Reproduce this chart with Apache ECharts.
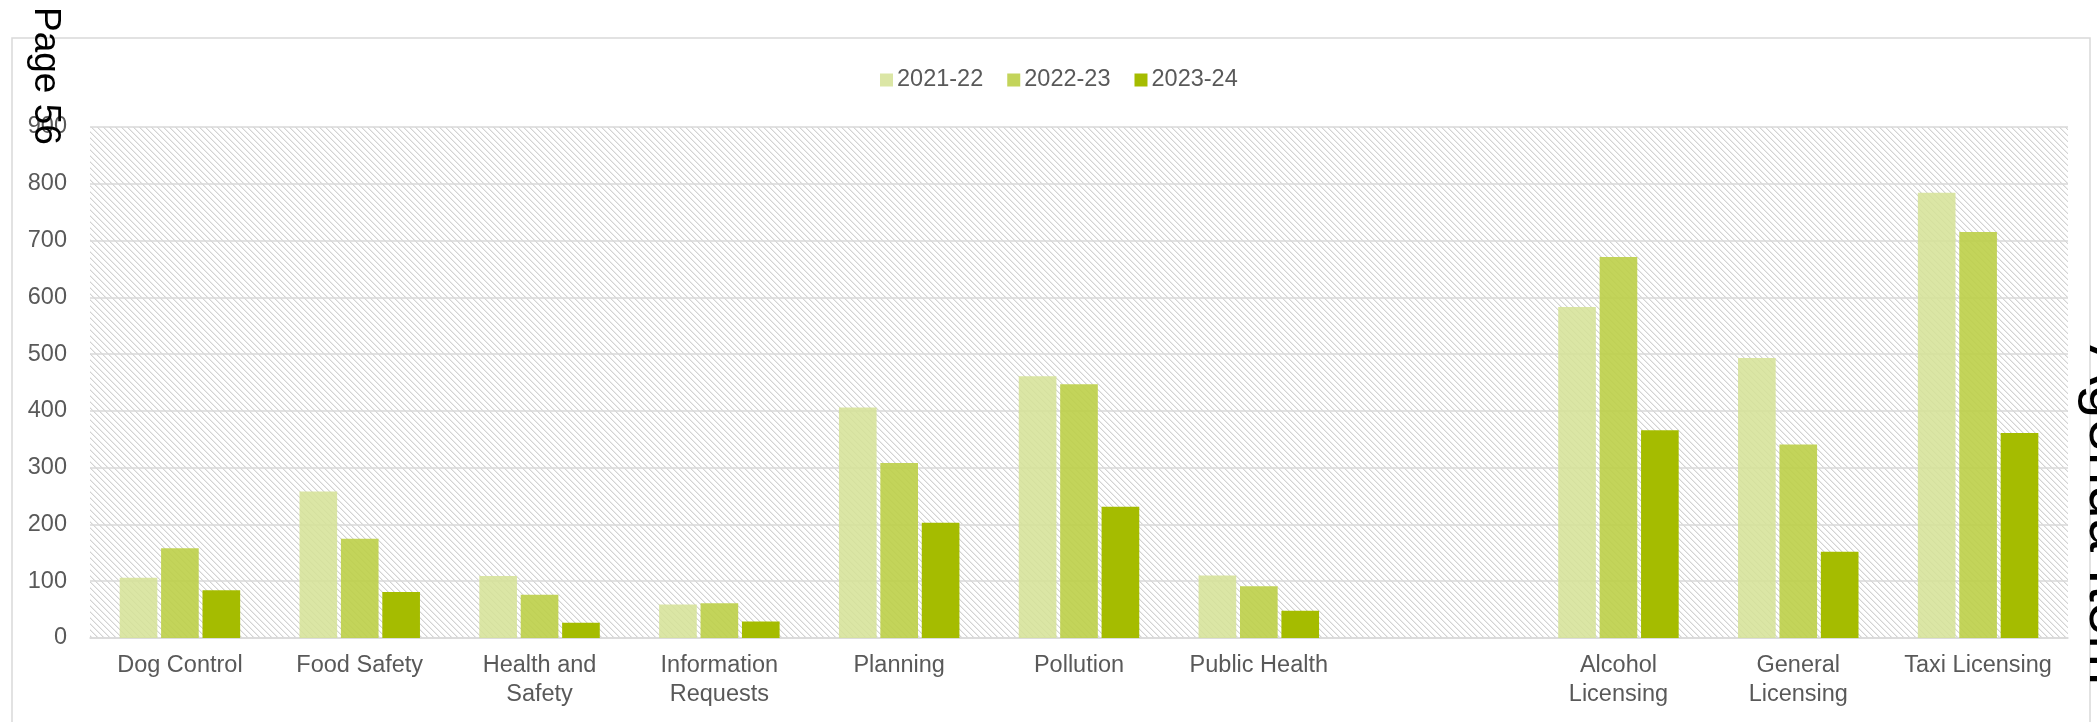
<!DOCTYPE html>
<html>
<head>
<meta charset="utf-8">
<script src="https://cdn.jsdelivr.net/npm/echarts@6/dist/echarts.min.js"></script>
<style>
  html, body { margin: 0; padding: 0; background: #ffffff; }
  #chart { width: 2097px; height: 722px; }
</style>
</head>
<body>
<div id="chart"></div>
<script>
// ---- Data ----
const categories = ['Dog Control', 'Food Safety', 'Health and\nSafety', 'Information\nRequests', 'Planning', 'Pollution', 'Public Health', '', 'Alcohol\nLicensing', 'General\nLicensing', 'Taxi Licensing'];
const seriesNames = ['2021-22', '2022-23', '2023-24'];
const values2021 = [106, 258, 109, 59, 406, 461, 110, null, 583, 493, 784];
const values2022 = [158, 175, 76, 61, 308, 447, 91, null, 671, 341, 715];
const values2023 = [84, 81, 27, 29, 203, 231, 48, null, 366, 152, 361];
const yMin = 0, yMax = 900, yStep = 100;
const pageLabel = 'Page 56';
const sideLabel = 'Agenda Item';

// ---- Styling ----
const FONT = "'Liberation Sans', Arial, sans-serif";
const colors = ['#d5e296', '#bccf48', '#a5bc00'];

// hatch pattern tile (downward diagonal)
const tile = document.createElement('canvas');
const T = 6;
tile.width = T; tile.height = T;
const tctx = tile.getContext('2d');
tctx.fillStyle = '#ffffff';
tctx.fillRect(0, 0, T, T);
for (let i = 0; i < T; i++) {
  tctx.fillStyle = '#d3d3d3';
  tctx.fillRect(i, i, 1, 1);
  tctx.fillStyle = '#ececec';
  tctx.fillRect((i + 1) % T, i, 1, 1);
}

const chart = echarts.init(document.getElementById('chart'), null, { renderer: 'canvas' });

const seriesData = [values2021, values2022, values2023];
const opacities = [0.86, 0.9, 1];

const option = {
  animation: false,
  backgroundColor: '#ffffff',
  textStyle: { fontFamily: FONT },
  legend: {
    left: 875,
    top: 63,
    itemWidth: 13,
    itemHeight: 13,
    itemGap: 24,
    icon: 'rect',
    textStyle: { fontSize: 23.5, color: '#595959', fontFamily: FONT, padding: [0, 0, 0, -1] },
    data: seriesNames
  },
  grid: {
    left: 90, right: 29, top: 127, bottom: 84,
    show: true,
    borderWidth: 0,
    backgroundColor: { image: tile, repeat: 'repeat' }
  },
  xAxis: {
    type: 'category',
    data: categories,
    axisLine: { lineStyle: { color: '#d9d9d9', width: 1.5 } },
    axisTick: { show: false },
    axisLabel: { interval: 0, fontSize: 23.5, color: '#595959', lineHeight: 29, margin: 13, fontFamily: FONT }
  },
  yAxis: {
    type: 'value',
    min: yMin, max: yMax, interval: yStep,
    axisLine: { show: false },
    axisTick: { show: false },
    splitLine: { lineStyle: { color: '#d9d9d9', width: 1.5 } },
    axisLabel: { fontSize: 23.5, color: '#595959', margin: 23, fontFamily: FONT }
  },
  series: seriesNames.map((name, i) => ({
    name: name,
    type: 'bar',
    data: seriesData[i],
    barGap: '10%',
    barCategoryGap: '33%',
    itemStyle: { color: colors[i], opacity: opacities[i] }
  })),
  graphic: [
    {
      type: 'rect',
      silent: true,
      z: -10,
      shape: { x: 12, y: 38, width: 2078, height: 720 },
      style: { fill: null, stroke: '#d9d9d9', lineWidth: 1.5 }
    },
    {
      type: 'text',
      x: 45, y: 7,
      rotation: -Math.PI / 2,
      z: 100,
      style: { text: pageLabel, fontSize: 37, fill: '#000000', fontFamily: FONT, align: 'left', verticalAlign: 'middle' }
    },
    {
      type: 'text',
      x: 2107, y: 345,
      rotation: -Math.PI / 2,
      z: 100,
      style: { text: sideLabel, fontSize: 60, fill: '#000000', fontFamily: FONT, align: 'left', verticalAlign: 'middle' }
    }
  ]
};

chart.setOption(option);
</script>
</body>
</html>
